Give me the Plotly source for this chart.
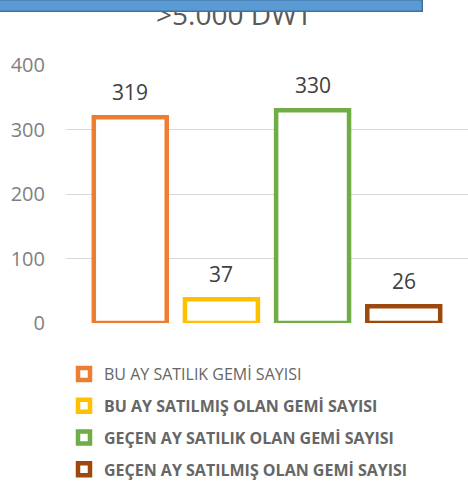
import plotly.graph_objects as go

# ---- data ----
categories = [
    "BU AY SATILIK GEMİ SAYISI",
    "BU AY SATILMIŞ OLAN GEMİ SAYISI",
    "GEÇEN AY SATILIK OLAN GEMİ SAYISI",
    "GEÇEN AY SATILMIŞ OLAN GEMİ SAYISI",
]
values = [319, 37, 330, 26]
title_text = ">5.000 DWT"
y_ticks = [0, 100, 200, 300, 400]

# ---- style ----
colors = ["#ED7D31", "#FFC000", "#70AD47", "#9E480E"]
bold_legend = [False, True, True, True]
FONT = "Open Sans"

W, H = 468, 483

fig = go.Figure()
for cat, val, col, b in zip(categories, values, colors, bold_legend):
    fig.add_trace(go.Bar(
        x=[cat], y=[val],
        name=f"<b>{cat}</b>" if b else cat,
        legendgroup=cat,
        width=0.8,
        marker=dict(color="white", line=dict(color=col, width=4.5)),
        cliponaxis=False,
        hoverinfo="x+y",
    ))

annotations = []
for cat, val in zip(categories, values):
    annotations.append(dict(
        x=cat, y=val, xref="x", yref="y", text=str(val), showarrow=False,
        yanchor="middle", yshift=25.5,
        font=dict(family=FONT, size=21, color="#404040"),
    ))

# title (drawn before the box so the box covers its top)
annotations.append(dict(
    x=(234.5 - 66) / 402, y=1, xref="paper", yref="paper", yshift=51,
    text=title_text, showarrow=False, yanchor="middle", xanchor="center",
    font=dict(family=FONT, size=28, color="#595959"),
))
# decorative blue box at top
annotations.append(dict(
    x=(206.5 - 66) / 402, y=1, xref="paper", yref="paper", yshift=60,
    text=" ", showarrow=False, yanchor="middle", xanchor="center",
    width=430, height=10, borderpad=0,
    bgcolor="#5B9BD5", bordercolor="#41719C", borderwidth=1.5,
    font=dict(size=4),
))

fig.update_layout(
    width=W, height=H,
    margin=dict(l=66, r=0, t=65, b=160, autoexpand=False),
    paper_bgcolor="white", plot_bgcolor="white",
    barmode="overlay",
    showlegend=True,
    legend=dict(
        orientation="v", xref="container", yref="container",
        x=64 / W, y=1 - 357 / H, xanchor="left", yanchor="top",
        font=dict(family=FONT, size=16, color="#666666"),
        tracegroupgap=8, bgcolor="rgba(0,0,0,0)",
    ),
    xaxis=dict(
        type="category", range=[-0.705, 3.705],
        showticklabels=False, showgrid=False, zeroline=False, showline=False,
    ),
    yaxis=dict(
        range=[0, 400], tickvals=y_ticks,
        showgrid=True, gridcolor="#D9D9D9", gridwidth=1.3,
        zeroline=False, showline=False, ticks="",
        ticklabelstandoff=20,
        tickfont=dict(family=FONT, size=20, color="#7F7F7F"),
    ),
    annotations=annotations,
    font=dict(family=FONT),
)

fig.write_html(
    "out.html",
    config={"displayModeBar": False},
    post_script="document.body.style.margin='0';",
)
